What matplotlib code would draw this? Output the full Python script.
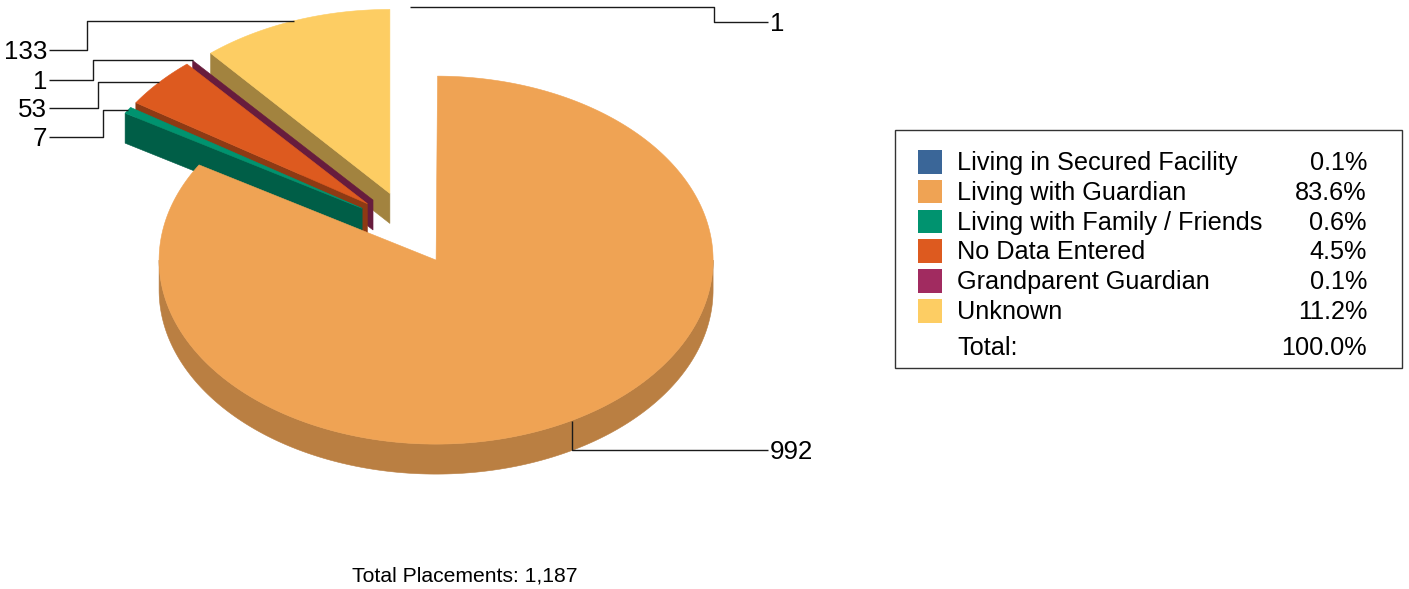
import numpy as np
import matplotlib
matplotlib.use("Agg")
import matplotlib.pyplot as plt
from matplotlib.patches import Polygon, Rectangle
from matplotlib.colors import to_rgb

# ---------------- data ----------------
categories = ["Living in Secured Facility", "Living with Guardian",
              "Living with Family / Friends", "No Data Entered",
              "Grandparent Guardian", "Unknown"]
counts = [1, 992, 7, 53, 1, 133]
colors = ["#3A6698", "#EFA354", "#00936F", "#DD5A1F", "#A12B60", "#FDCD63"]
total_label = "Total Placements: 1,187"

# ---------------- layout / style (pixel units) ----------------
W, H = 1409, 589
CX, CY = 409, 228          # un-exploded pie centre
RX, RY = 277, 184          # ellipse radii
DEPTH = 30
EXPLODE = 0.2
TOP_MIN_FRAC = 0.002       # slices thinner than this show only their walls
FONT = "Liberation Sans"

plt.rcParams["font.family"] = [FONT, "DejaVu Sans"]
fig = plt.figure(figsize=(W / 100, H / 100), dpi=100)
ax = fig.add_axes([0, 0, 1, 1])
ax.set_xlim(0, W)
ax.set_ylim(H, 0)
ax.axis("off")


def shade(c, f):
    return tuple(np.clip(np.array(to_rgb(c)) * f, 0, 1))


total = sum(counts)
fracs = np.array(counts, dtype=float) / total
ends = np.cumsum(fracs) * 360.0
starts = ends - fracs * 360.0
mids = (starts + ends) / 2.0


def pt(x0, y0, th, r=1.0):
    t = np.radians(th)
    return np.array([x0 + r * RX * np.sin(t), y0 - r * RY * np.cos(t)])


apexes = [pt(CX, CY, m, EXPLODE) for m in mids]
down = np.array([0, DEPTH])


def add_poly(pts, color, z):
    ax.add_patch(Polygon(np.array(pts), closed=True, facecolor=color,
                         edgecolor=color, linewidth=0.4, zorder=z))


order = np.argsort([a[1] for a in apexes])
z = 1
for i in order:
    a = apexes[i]
    s, e = starts[i], ends[i]
    c = colors[i]
    # radial walls
    if np.sin(np.radians(s)) < -1e-6:
        r = pt(a[0], a[1], s)
        add_poly([a, r, r + down, a + down], shade(c, 0.64), z); z += 1
    if np.sin(np.radians(e)) > 1e-6 and fracs[i] >= TOP_MIN_FRAC:
        r = pt(a[0], a[1], e)
        add_poly([a, r, r + down, a + down], shade(c, 0.64), z); z += 1
    # outer curved wall (front half only)
    lo, hi = max(s, 90.0), min(e, 270.0)
    if hi > lo:
        th = np.linspace(lo, hi, 200)
        top = [pt(a[0], a[1], t) for t in th]
        bot = [p + down for p in top[::-1]]
        add_poly(top + bot, shade(c, 0.78), z); z += 1
    # top face
    if fracs[i] >= TOP_MIN_FRAC:
        th = np.linspace(s, e, max(3, int((e - s) * 2)))
        add_poly([a] + [pt(a[0], a[1], t) for t in th], c, z); z += 1

# ---------------- leader lines & value labels ----------------
label_xy = {0: (770, 22), 1: (770, 450), 2: (47, 137), 3: (47, 108),
            4: (47, 80), 5: (47, 50)}
elbow_x = {0: 714, 1: None, 2: 103, 3: 98, 4: 93, 5: 87}
for i in range(len(counts)):
    a = apexes[i]
    sx, sy = pt(a[0], a[1], mids[i])
    lx, ly = label_xy[i]
    ex = sx if elbow_x[i] is None else elbow_x[i]
    right = lx > sx
    lend = lx - 2 if right else lx + 2
    ax.plot([sx, ex, ex, lend], [sy, sy, ly, ly], color="#1a1a1a",
            linewidth=1.0, zorder=50, solid_capstyle="butt")
    ax.text(lx, ly + 9, f"{counts[i]:,}", ha="left" if right else "right",
            va="baseline", fontsize=18.6, color="black", zorder=51)

# ---------------- legend ----------------
ax.add_patch(Rectangle((895, 130), 507, 238, facecolor="white",
                       edgecolor="#333333", linewidth=1.0, zorder=60))
row_h = 29.8
for i, (lab, c) in enumerate(zip(categories, colors)):
    y0 = 150 + i * row_h
    ax.add_patch(Rectangle((918, y0), 24, 23.5, facecolor=c,
                           edgecolor="none", zorder=61))
    ax.text(957, 170 + i * row_h, lab, ha="left", va="baseline",
            fontsize=18.2, zorder=62)
    ax.text(1367, 170 + i * row_h, f"{fracs[i] * 100:.1f}%", ha="right",
            va="baseline", fontsize=18.2, zorder=62)
ax.text(957, 355, "Total:", ha="left", va="baseline", fontsize=18.2, zorder=62)
ax.text(1367, 355, f"{fracs.sum() * 100:.1f}%", ha="right", va="baseline",
        fontsize=18.2, zorder=62)

ax.text(352, 582, total_label, ha="left", va="baseline", fontsize=15.2)

fig.savefig("out.png", dpi=100)
